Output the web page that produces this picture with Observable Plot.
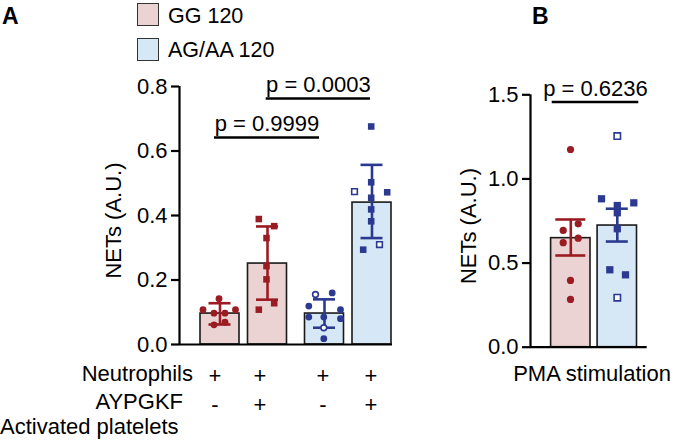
<!DOCTYPE html>
<html><head><meta charset="utf-8">
<script src="https://cdn.jsdelivr.net/npm/d3@7"></script>
<script src="https://cdn.jsdelivr.net/npm/@observablehq/plot@0.6"></script>
<style>
html,body{margin:0;padding:0;background:#fff;}
#root{position:relative;width:677px;height:442px;overflow:hidden;font-family:"Liberation Sans",Arial,Helvetica,sans-serif;color:#000;}
.abs{position:absolute;white-space:nowrap;font-size:22px;line-height:20px;z-index:2;}
.plot{position:absolute;top:0;z-index:1;}
.sw{position:absolute;width:22px;height:23px;box-sizing:border-box;border:1.5px solid #333;z-index:2;}
</style></head><body><div id="root"></div>
<script>
// ---------- data ----------
const genotypes = ["GG 120", "AG/AA 120"];
const yLabel = "NETs (A.U.)";

// Panel A
const genotypeA = ["GG 120", "GG 120", "AG/AA 120", "AG/AA 120"];
const neutrophilsRow = ["+", "+", "+", "+"];
const aypgkfRow = ["-", "+", "-", "+"];
const meanA = [0.096, 0.251, 0.096, 0.440];
const lowA  = [0.062, 0.139, 0.052, 0.330];
const highA = [0.128, 0.366, 0.140, 0.557];
const valuesA = [
  [0.142, 0.108, 0.108, 0.097, 0.097, 0.061, 0.069],
  [0.389, 0.367, 0.330, 0.243, 0.202, 0.128, 0.108],
  [0.155, 0.160, 0.119, 0.108, 0.085, 0.085, 0.080, 0.052, 0.018],
  [0.676, 0.503, 0.474, 0.472, 0.455, 0.419, 0.382, 0.294, 0.310]
];
const openA = [
  [0,0,0,0,0,0,0],
  [0,0,0,0,0,0,0],
  [1,0,0,0,0,0,0,1,0],
  [0,0,1,0,0,0,0,0,1]
];
const yTicksA = [0, 0.2, 0.4, 0.6, 0.8];
const compA = [
  {a: 0, b: 2, label: "p = 0.9999"},
  {a: 1, b: 3, label: "p = 0.0003"}
];

// Panel B
const genotypeB = ["GG 120", "AG/AA 120"];
const meanB = [0.648, 0.723];
const lowB  = [0.545, 0.628];
const highB = [0.759, 0.823];
const valuesB = [
  [1.175, 0.694, 0.733, 0.621, 0.648, 0.397, 0.284],
  [1.255, 0.882, 0.858, 0.842, 0.799, 0.704, 0.460, 0.430, 0.294]
];
const openB = [
  [0,0,0,0,0,0,0],
  [1,0,0,0,0,0,0,0,1]
];
const yTicksB = [0, 0.5, 1.0, 1.5];
const compB = [{a: 0, b: 1, label: "p = 0.6236"}];
const xLabelB = "PMA stimulation";

// ---------- layout (pixel-based x units) ----------
const dark = {"GG 120": "#9b1b22", "AG/AA 120": "#2b3990"};
const light = {"GG 120": "#ebd3d3", "AG/AA 120": "#d6e7f6"};
const font = '"Liberation Sans", Arial, Helvetica, sans-serif';

const centersA = [40.5, 88, 145, 192.5];
const jitterA = [
  [-1, -17, 15.5, -6, 5, -6, 5],
  [-8.7, 6.7, -1, -1, -1, 6.7, -8.7],
  [-9, 7.7, -15.7, 16, -15.7, -0.7, 16, -0.7, -0.7],
  [-0.8, -0.8, -17.5, 15.2, -0.8, -0.8, -0.8, -8.8, 7.5]
];
const signXA = [35.5, 80.5, 143.5, 191.5];
const shapeA = ["circle", "square", "circle", "square"];
const compLayoutA = [{x1: 35, x2: 140, y: 0.642}, {x1: 86.7, x2: 191, y: 0.763}];

const centersB = [40.3, 86.8];
const jitterB = [
  [-0.3, -7.6, 7.4, -7.6, 7.4, -0.3, -0.3],
  [0, -15.8, 16.5, 0, 0, 0, -7.5, 8.2, 0]
];
const shapeB = ["circle", "square"];
const compLayoutB = [{x1: 21.7, x2: 108.3, y: 1.457}];

function buildPanel(cfg) {
  const bars = cfg.mean.map((m, i) => ({
    c: cfg.centers[i], m, lo: cfg.low[i], hi: cfg.high[i], g: cfg.geno[i], cap: cfg.cap[i]
  }));
  const pts = [];
  cfg.values.forEach((vals, i) => vals.forEach((v, j) => pts.push({
    x: cfg.centers[i] + cfg.jitter[i][j], y: v, g: cfg.geno[i], shape: cfg.shape[i], open: !!cfg.open[i][j]
  })));
  const marks = [];
  for (const g of genotypes) {
    marks.push(Plot.rect(bars.filter(d => d.g === g), {
      x1: d => d.c - cfg.half, x2: d => d.c + cfg.half, y1: 0, y2: "m",
      fill: light[g], stroke: "#1a1a1a", strokeWidth: 1.6
    }));
  }
  for (const g of genotypes) {
    const bg = bars.filter(d => d.g === g);
    marks.push(Plot.ruleX(bg, {x: "c", y1: "lo", y2: "hi", stroke: dark[g], strokeWidth: 2.6}));
    marks.push(Plot.ruleY(bg, {y: "hi", x1: d => d.c - d.cap, x2: d => d.c + d.cap, stroke: dark[g], strokeWidth: 2.6}));
    marks.push(Plot.ruleY(bg, {y: "lo", x1: d => d.c - d.cap, x2: d => d.c + d.cap, stroke: dark[g], strokeWidth: 2.6}));
  }
  for (const g of genotypes) for (const s of ["circle", "square"]) {
    const sub = pts.filter(d => d.g === g && d.shape === s);
    const r = s === "circle" ? cfg.rc : cfg.rs;
    marks.push(Plot.dot(sub.filter(d => !d.open), {x: "x", y: "y", symbol: s, r, fill: dark[g], stroke: "none"}));
    marks.push(Plot.dot(sub.filter(d => d.open), {x: "x", y: "y", symbol: s, r: r - 0.5, fill: "white", stroke: dark[g], strokeWidth: 1.6}));
  }
  marks.push(Plot.ruleX([0], {y1: 0, y2: cfg.ticks[cfg.ticks.length - 1], strokeWidth: 2.2, stroke: "#000"}));
  marks.push(Plot.ruleY([0], {x1: 0, x2: cfg.xmax, strokeWidth: 2.2, stroke: "#000"}));
  marks.push(Plot.axisY({ticks: cfg.ticks, tickFormat: d3.format(".1f"), tickSize: 8, tickPadding: 4,
    fontSize: 22, strokeWidth: 2.2, stroke: "#000", fill: "#000", label: null}));
  marks.push(Plot.text([yLabel], {text: d => d, frameAnchor: "left", textAnchor: "middle", rotate: -90,
    dx: cfg.labelDx, dy: 5, fontSize: 22, fill: "#000"}));
  cfg.comp.forEach((c, k) => {
    const L = cfg.compLayout[k];
    marks.push(Plot.ruleY([L], {y: "y", x1: "x1", x2: "x2", strokeWidth: 2.6, stroke: "#000"}));
    marks.push(Plot.text([L], {x: d => (d.x1 + d.x2) / 2, y: "y", text: () => c.label, dy: -6,
      lineAnchor: "bottom", fontSize: 22, fill: "#000"}));
  });
  if (cfg.extra) marks.push(...cfg.extra);
  return Plot.plot({
    width: cfg.width, height: 442,
    marginLeft: cfg.ml, marginRight: cfg.width - cfg.ml - cfg.xmax, marginTop: cfg.mt, marginBottom: cfg.mb,
    x: {type: "linear", domain: [0, cfg.xmax], axis: null},
    y: {domain: [0, cfg.ticks[cfg.ticks.length - 1]], axis: null},
    style: {fontFamily: font, fontSize: "22px", background: "transparent", color: "#000", overflow: "visible"},
    marks
  });
}

const signRows = [];
centersA.forEach((c, i) => {
  signRows.push({x: signXA[i], t: neutrophilsRow[i], row: 0});
  signRows.push({x: signXA[i], t: aypgkfRow[i], row: 1});
});

const plotA = buildPanel({
  width: 440, ml: 179, xmax: 213, mt: 86, mb: 98,
  centers: centersA, mean: meanA, low: lowA, high: highA, geno: genotypeA,
  cap: [11, 11, 11, 11], half: 19.5,
  values: valuesA, jitter: jitterA, open: openA, shape: shapeA, rc: 3.4, rs: 3.7,
  ticks: yTicksA, labelDx: -66, comp: compA, compLayout: compLayoutA,
  extra: [
    Plot.text(signRows.filter(d => d.row === 0), {x: "x", text: "t", frameAnchor: "bottom", dy: 38, lineAnchor: "bottom", fontSize: 22, fill: "#000"}),
    Plot.text(signRows.filter(d => d.row === 1), {x: "x", text: "t", frameAnchor: "bottom", dy: 67, lineAnchor: "bottom", fontSize: 22, fill: "#000"})
  ]
});
const plotB = buildPanel({
  width: 237, ml: 90, xmax: 116.7, mt: 94.3, mb: 95.3,
  centers: centersB, mean: meanB, low: lowB, high: highB, geno: genotypeB,
  cap: [15, 11], half: 19.7,
  values: valuesB, jitter: jitterB, open: openB, shape: shapeB, rc: 3.6, rs: 4.1,
  ticks: yTicksB, labelDx: -62, comp: compB, compLayout: compLayoutB
});

const root = document.getElementById("root");
plotA.classList.add("plot"); plotA.style.left = "0px";
plotB.classList.add("plot"); plotB.style.left = "440px";
root.appendChild(plotA); root.appendChild(plotB);

function addText(txt, css) {
  const el = document.createElement("div");
  el.className = "abs"; el.textContent = txt;
  Object.assign(el.style, css);
  root.appendChild(el);
}
function addSwatch(color, css) {
  const el = document.createElement("div");
  el.className = "sw"; el.style.background = color;
  Object.assign(el.style, css);
  root.appendChild(el);
}
addText("A", {left: "2px", top: "6px", fontWeight: "bold", fontSize: "23px"});
addText("B", {left: "532px", top: "6px", fontWeight: "bold", fontSize: "23px"});
genotypes.forEach((g, i) => {
  addSwatch(light[g], {left: "137px", top: (3 + i * 35) + "px"});
  addText(g, {left: "168px", top: (5.5 + i * 34.6) + "px", fontSize: "21.5px"});
});
addText("Neutrophils", {right: (677 - 193) + "px", top: "364px"});
addText("AYPGKF", {right: (677 - 183) + "px", top: "391.9px"});
addText("Activated platelets", {left: "0px", top: "416.9px"});
addText(xLabelB, {left: "592px", top: "364px", transform: "translateX(-50%)"});
</script></body></html>
